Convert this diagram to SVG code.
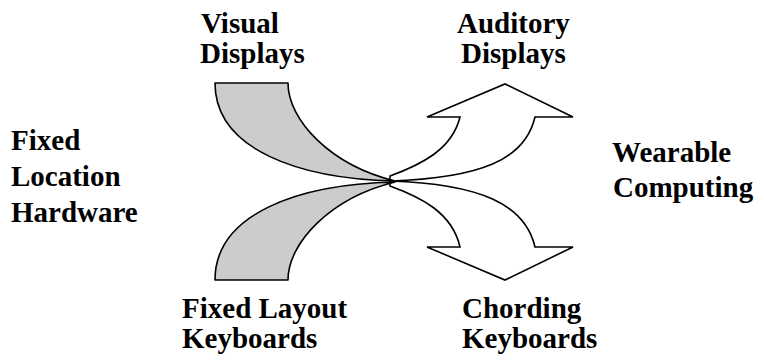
<svg xmlns="http://www.w3.org/2000/svg" width="764" height="362" viewBox="0 0 764 362">
<style>
.band{fill:#cccccc;stroke:#000;stroke-width:1.6;stroke-linejoin:round}
.arrow{fill:#fff;stroke:#000;stroke-width:1.6;stroke-linejoin:miter}
</style>
<rect width="764" height="362" fill="#fff"/>
<g id="connectors">
<path class="arrow" d="M390,176 C420,165 452,150 460,117 L427,117 L505,84 L573,117 L535,117 C525,160 480,178 390,181 Z"/>
<path class="arrow" d="M390,186 C420,197 452,212 460,247 L427,247 L505,280 L573,247 L535,247 C525,204 480,184 390,181 Z"/>
<path class="band" d="M215,83 L288,83 C288,120 330,165 395,181 C300,179 215,150 215,83 Z"/>
<path class="band" d="M215,280 L288,280 C288,243 330,198 395,182 C300,184 215,213 215,280 Z"/>
</g>
<g font-family="Liberation Serif, DejaVu Serif, serif" font-weight="bold" font-size="29" fill="#000">
<g id="visual-displays"><text x="201" y="33">Visual</text><text x="200" y="63">Displays</text></g>
<g id="auditory-displays"><text x="457" y="33">Auditory</text><text x="461" y="63">Displays</text></g>
<g id="fixed-location-hardware"><text x="11" y="150">Fixed</text><text x="11" y="186">Location</text><text x="11" y="222">Hardware</text></g>
<g id="wearable-computing"><text x="612" y="162">Wearable</text><text x="613" y="197">Computing</text></g>
<g id="fixed-layout-keyboards"><text x="182" y="318">Fixed Layout</text><text x="182" y="348">Keyboards</text></g>
<g id="chording-keyboards"><text x="462" y="318">Chording</text><text x="462" y="348">Keyboards</text></g>
</g>
</svg>
